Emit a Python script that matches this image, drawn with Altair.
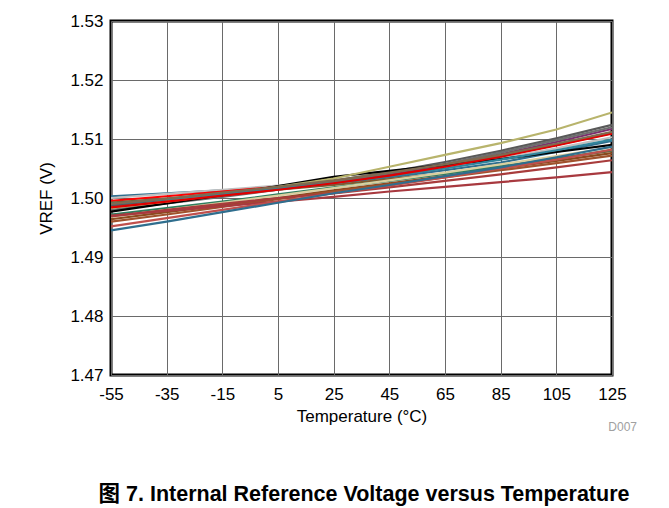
import altair as alt
import pandas as pd

temps = [-55, -35, -15, 5, 25, 45, 65, 85, 105, 125]

series_names = [f"U{i}" for i in range(1, 21)]
series_colors = [
    "#2f6e8e", "#bfbfbf", "#ff0000", "#7f5b30", "#7b2d6e",
    "#595959", "#6e6e6e", "#000000", "#b8b46c", "#2e7d5e",
    "#d9cf9f", "#8b4a1e", "#a0522d", "#a83c3c", "#a8393f",
    "#c0504d", "#2f6e8e", "#31859c", "#e00000", "#7f6a50",
]
series_values = [
    [1.5003, 1.5008, 1.5013, 1.5018, 1.5025, 1.5035, 1.5047, 1.5060, 1.5078, 1.5097],
    [1.5000, 1.5007, 1.5014, 1.5021, 1.5029, 1.5040, 1.5053, 1.5067, 1.5084, 1.5103],
    [1.4995, 1.5003, 1.5011, 1.5019, 1.5028, 1.5041, 1.5055, 1.5071, 1.5090, 1.5110],
    [1.4992, 1.4999, 1.5006, 1.5014, 1.5022, 1.5032, 1.5042, 1.5054, 1.5067, 1.5080],
    [1.4988, 1.4997, 1.5006, 1.5016, 1.5026, 1.5040, 1.5056, 1.5074, 1.5095, 1.5117],
    [1.4986, 1.4996, 1.5006, 1.5017, 1.5029, 1.5044, 1.5061, 1.5080, 1.5101, 1.5124],
    [1.4980, 1.4991, 1.5002, 1.5014, 1.5027, 1.5042, 1.5058, 1.5077, 1.5098, 1.5120],
    [1.4977, 1.4991, 1.5005, 1.5020, 1.5036, 1.5046, 1.5056, 1.5066, 1.5078, 1.5090],
    [1.4983, 1.4994, 1.5006, 1.5019, 1.5033, 1.5053, 1.5073, 1.5093, 1.5116, 1.5145],
    [1.4972, 1.4983, 1.4994, 1.5006, 1.5018, 1.5029, 1.5041, 1.5054, 1.5067, 1.5081],
    [1.4968, 1.4980, 1.4992, 1.5004, 1.5017, 1.5030, 1.5043, 1.5057, 1.5071, 1.5086],
    [1.4964, 1.4976, 1.4988, 1.5000, 1.5013, 1.5025, 1.5037, 1.5050, 1.5063, 1.5076],
    [1.4960, 1.4972, 1.4985, 1.4998, 1.5011, 1.5023, 1.5035, 1.5047, 1.5059, 1.5072],
    [1.4969, 1.4980, 1.4990, 1.5000, 1.5008, 1.5018, 1.5029, 1.5040, 1.5052, 1.5064],
    [1.4970, 1.4978, 1.4986, 1.4994, 1.5002, 1.5011, 1.5019, 1.5027, 1.5035, 1.5044],
    [1.4952, 1.4966, 1.4980, 1.4994, 1.5008, 1.5021, 1.5035, 1.5050, 1.5065, 1.5082],
    [1.4945, 1.4960, 1.4976, 1.4992, 1.5008, 1.5022, 1.5037, 1.5052, 1.5069, 1.5087],
    [1.4990, 1.4998, 1.5007, 1.5016, 1.5025, 1.5037, 1.5050, 1.5065, 1.5081, 1.5099],
    [1.4984, 1.4994, 1.5004, 1.5014, 1.5025, 1.5038, 1.5053, 1.5070, 1.5089, 1.5109],
    [1.4990, 1.4999, 1.5009, 1.5019, 1.5030, 1.5043, 1.5057, 1.5073, 1.5092, 1.5112],
]

x_ticks = [-55, -35, -15, 5, 25, 45, 65, 85, 105, 125]
y_ticks = [1.47, 1.48, 1.49, 1.50, 1.51, 1.52, 1.53]

rows = []
for name, vals in zip(series_names, series_values):
    for t, v in zip(temps, vals):
        rows.append({"series": name, "temp": t, "vref": v})
df = pd.DataFrame(rows)
one = pd.DataFrame({"k": [0]})

FONT = "Liberation Sans"

lines = alt.Chart(df).mark_line(strokeWidth=2.2, clip=True).encode(
    x=alt.X("temp:Q",
            scale=alt.Scale(domain=[-55, 125], nice=False, zero=False),
            axis=alt.Axis(values=x_ticks, title="Temperature (\u00b0C)",
                          labelExpr="'' + datum.value", labelFlush=False,
                          labelFontSize=17, titleFontSize=17, labelPadding=11,
                          titlePadding=6, ticks=False, domain=False,
                          gridColor="#6a6a6a", gridWidth=1, gridOpacity=1,
                          labelColor="#000000", titleColor="#000000",
                          labelFont=FONT, titleFont=FONT, titleFontWeight="normal")),
    y=alt.Y("vref:Q",
            scale=alt.Scale(domain=[1.47, 1.53], nice=False, zero=False),
            axis=alt.Axis(values=y_ticks, title="VREF (V)", format=".2f",
                          labelFontSize=17, titleFontSize=17, labelPadding=8,
                          titlePadding=14, ticks=False, domain=False, labelFlush=False,
                          gridColor="#6a6a6a", gridWidth=1, gridOpacity=1,
                          labelColor="#000000", titleColor="#000000",
                          labelFont=FONT, titleFont=FONT, titleFontWeight="normal")),
    color=alt.Color("series:N", scale=alt.Scale(domain=series_names, range=series_colors),
                    legend=None),
    detail="series:N",
)

top_rule = alt.Chart(one).mark_rule(color="#000000", strokeWidth=1.5, clip=False).encode(
    x=alt.value(-103), x2=alt.value(550), y=alt.value(-14)
)

d007 = alt.Chart(one).mark_text(align="right", baseline="middle", fontSize=12,
                                color="#a0a0a0", font=FONT).encode(
    x=alt.value(526), y=alt.value(406), text=alt.value("D007")
)

caption = alt.Chart(one).mark_text(align="center", baseline="middle", fontSize=21.5,
                                   fontWeight="bold", color="#000000",
                                   font="Liberation Sans, Noto Sans CJK SC").encode(
    x=alt.value(253), y=alt.value(474),
    text=alt.value("图 7. Internal Reference Voltage versus Temperature")
)

chart = alt.layer(lines, top_rule, d007, caption).properties(
    width=501, height=354,
    autosize=alt.AutoSizeParams(type="none"),
    padding={"left": 103, "top": 13, "right": 49, "bottom": 145},
).configure_view(stroke="#000000", strokeWidth=3)

chart.save("out.html", embed_options={"renderer": "svg", "actions": False})
